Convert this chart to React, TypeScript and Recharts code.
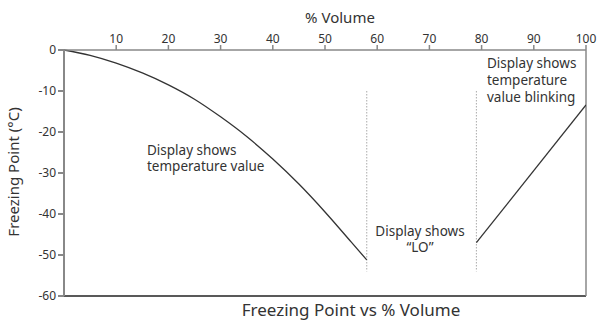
import { LineChart, Line, XAxis, YAxis, ReferenceLine } from 'recharts';

const volumeTicks = [10, 20, 30, 40, 50, 60, 70, 80, 90, 100];
const tempTicks = [0, -10, -20, -30, -40, -50, -60];

// freezing point curve while display shows temperature
const curveVolume = [0, 5, 10, 15, 20, 25, 30, 35, 40, 45, 50, 55, 58];
const curveTemp = [0, -1.3, -3.2, -5.6, -8.5, -12.0, -16.3, -21.1, -26.6, -32.7, -39.5, -46.8, -51.2];

// blinking region
const blinkVolume = [79, 100];
const blinkTemp = [-47, -13.4];

// "LO" region boundaries
const boundaryVolume = [58, 79];
const boundaryTop = -10;
const boundaryBottom = -54;

const curveData = curveVolume.map((x, i) => ({ x, y: curveTemp[i] }));
const blinkData = blinkVolume.map((x, i) => ({ x, y: blinkTemp[i] }));

const font = '"Noto Sans", sans-serif';
const textColor = '#333';

export default function App() {
	return (
		<div style={{ position: 'absolute', left: 0, top: 0, width: 602, height: 321, background: '#fff' }}>
			<LineChart width={602} height={321} margin={{ top: 0, right: 16, bottom: 25, left: 0 }}>
				<XAxis
					type="number"
					dataKey="x"
					orientation="top"
					domain={[0, 100]}
					ticks={volumeTicks}
					height={50}
					stroke="#888"
					strokeWidth={1.5}
					tickSize={5}
					tick={{ fill: textColor, fontSize: 12, fontFamily: font }}
					allowDataOverflow
				/>
				<YAxis
					type="number"
					domain={[-60, 0]}
					ticks={tempTicks}
					width={64}
					stroke="#888"
					strokeWidth={2}
					tickSize={6}
					interval={0}
					tick={{ fill: textColor, fontSize: 12, fontFamily: font }}
				/>
				<ReferenceLine y={-60} stroke="#222" strokeWidth={1.5} />
				<ReferenceLine x={100} stroke="#888" strokeWidth={1.5} />
				{boundaryVolume.map((v) => (
					<ReferenceLine
						key={v}
						segment={[{ x: v, y: boundaryTop }, { x: v, y: boundaryBottom }]}
						stroke="#aaa"
						strokeDasharray="1.5 1.5"
						strokeWidth={1}
					/>
				))}
				<Line data={curveData} dataKey="y" type="monotone" stroke="#333" strokeWidth={1.3} dot={false} isAnimationActive={false} />
				<Line data={blinkData} dataKey="y" type="linear" stroke="#333" strokeWidth={1.3} dot={false} isAnimationActive={false} />
			</LineChart>
			<svg width={602} height={321} style={{ position: 'absolute', left: 0, top: 0, pointerEvents: 'none' }} fontFamily={font} fill={textColor}>
				<text x={340} y={23} textAnchor="middle" fontSize={15}>% Volume</text>
				<text x={0} y={0} transform="translate(19,172) rotate(-90)" textAnchor="middle" fontSize={15}>Freezing Point (°C)</text>
				<text x={351} y={316} textAnchor="middle" fontSize={17}>Freezing Point vs % Volume</text>
				<text x={147} y={155} fontSize={13.5}>Display shows</text>
				<text x={147} y={171} fontSize={13.5}>temperature value</text>
				<text x={420} y={236} textAnchor="middle" fontSize={13.5}>Display shows</text>
				<text x={420} y={252} textAnchor="middle" fontSize={13.5}>“LO”</text>
				<text x={487} y={68} fontSize={13.5}>Display shows</text>
				<text x={487} y={85} fontSize={13.5}>temperature</text>
				<text x={487} y={102} fontSize={13.5}>value blinking</text>
			</svg>
		</div>
	);
}
